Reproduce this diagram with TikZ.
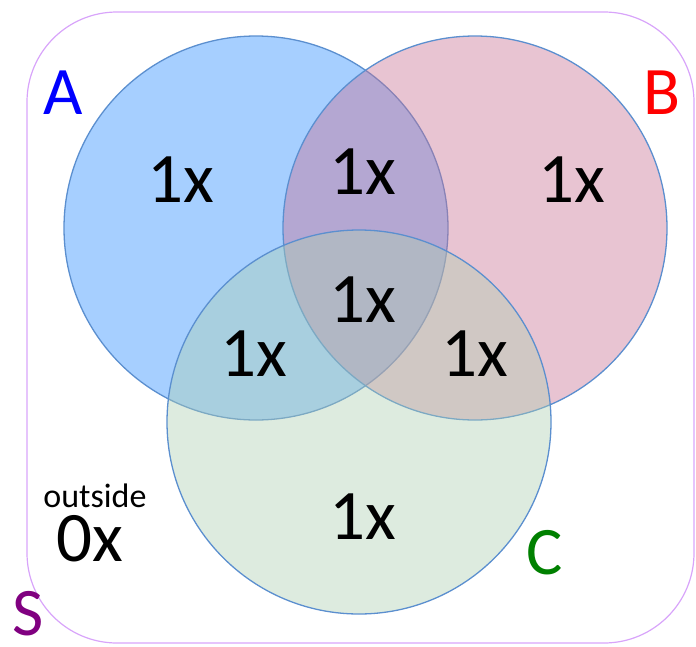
\documentclass[tikz,border=0pt]{standalone}
\usepackage{fontspec}
\setmainfont{Carlito}
\usetikzlibrary{positioning}
\definecolor{ringblue}{RGB}{91,143,207}
\definecolor{framepurple}{RGB}{216,164,250}
\definecolor{setAfill}{RGB}{166,207,255}
\definecolor{setBfill}{RGB}{200,114,148}
\definecolor{setCfill}{RGB}{173,207,178}
\definecolor{namepurple}{RGB}{128,0,128}
\definecolor{namegreen}{RGB}{0,128,0}

\begin{document}
\begin{tikzpicture}[
        x=1pt, y=-1pt,
        universe/.style={draw=framepurple, line width=1.2pt, rounded corners=90pt, minimum width=667pt, minimum height=631pt, inner sep=0pt},
        set/.style={circle, draw=ringblue, line width=1.3pt, minimum size=384pt, inner sep=0pt},
        setname/.style={font=\fontsize{68}{68}\selectfont, inner sep=0pt},
        count/.style={font=\fontsize{71}{71}\selectfont, inner sep=0pt},
        small/.style={font=\fontsize{34}{34}\selectfont, inner sep=0pt}
    ]
    \useasboundingbox (0,0) rectangle (696,646);
    % Universo S
    \node[universe] (S) at (360.5,327.5) {};
    % Conjuntos A, B, C (transparentes)
    \node[set, fill=setAfill] (A) at (256,228) {};
    \node[set, fill=setBfill, fill opacity=0.42] (B) at (475,228) {};
    \node[set, fill=setCfill, fill opacity=0.41] (C) at (359,422) {};
    % Nombres
    \node[setname, blue] (nameA) at (63,93) {A};
    \node[setname, red] (nameB) at (662,93) {B};
    \node[setname, namegreen] (nameC) at (545,553) {C};
    \node[setname, namepurple] (nameS) at (28,614) {S};
    % Cuentas por region
    \node[count] (onlyA) at (181,180) {1x};
    \node[count] (AB) at (363,172) {1x};
    \node[count] (onlyB) at (572,180) {1x};
    \node[count] (ABC) at (363,300) {1x};
    \node[count] (AC) at (254,354) {1x};
    \node[count] (BC) at (475,354) {1x};
    \node[count] (onlyC) at (363,517) {1x};
    \node[small] (outlabel) at (95,496) {outside};
    \node[count] (none) at (90,539) {0x};
\end{tikzpicture}
\end{document}
